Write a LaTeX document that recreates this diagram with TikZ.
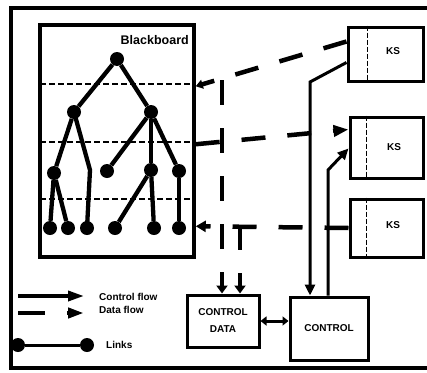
\documentclass[tikz,border=0pt]{standalone}
\usepackage{fontspec}
\setmainfont{Liberation Sans}
\usetikzlibrary{arrows.meta,calc}
\begin{document}
\begin{tikzpicture}[x=1pt,y=-1pt,
  dot/.style={circle,fill,inner sep=0pt,minimum size=14pt},
  link/.style={line width=4.3pt,line join=round},
  box/.style={draw,line width=3pt,inner sep=0pt},
  ctrl/.style={line width=3pt,-{Triangle[length=11pt,width=10pt]}},
  data/.style={line width=4.5pt,dash pattern=on 24pt off 22pt},
  lvl/.style={line width=2pt,dash pattern=on 6pt off 3pt},
  div/.style={line width=1.5pt,dash pattern=on 5pt off 2pt},
  lbl/.style={font=\bfseries\fontsize{10}{17}\selectfont,inner sep=0pt}]
\useasboundingbox (0,0) rectangle (427,372);
% outer frame
\draw[line width=3.5pt] (427,8) -- (11,8) -- (11,368) -- (427,368);
% blackboard
\node[box,line width=3.5pt,minimum width=154pt,minimum height=232pt] (bb) at (117,141) {};
\node[font=\bfseries\fontsize{12.5}{14}\selectfont,anchor=east,inner sep=0pt] (bbt) at (189,40) {Blackboard};
\draw[lvl] (40,84) -- (194,84);
\draw[lvl] (40,142) -- (194,142);
\draw[lvl] (40,199) -- (194,199);
% tree
\node[dot] (r) at (117,59) {};
\node[dot] (a) at (74,112) {};
\node[dot] (b) at (151,112) {};
\node[dot] (c) at (54,173) {};
\node[dot] (d) at (107,171) {};
\node[dot] (e) at (151,170) {};
\node[dot] (f) at (179,171) {};
\node[dot] (l1) at (50,228) {};
\node[dot] (l2) at (68,228) {};
\node[dot] (l3) at (87,228) {};
\node[dot] (l4) at (115,228) {};
\node[dot] (l5) at (154,228) {};
\node[dot] (l6) at (179,228) {};
\coordinate (k) at (90,170);
\draw[link] (r) -- (a);
\draw[link] (r) -- (b);
\draw[link] (a) -- (c);
\draw[link] (a.center) -- (k) -- (l3.center);
\draw[link] (b) -- (d);
\draw[link] (b) -- (e);
\draw[link] (b) -- (f);
\draw[link] (c) -- (l1);
\draw[link] (c) -- (l2);
\draw[link] (e) -- (l4);
\draw[link] (e) -- (l5);
\draw[link] (f) -- (l6);
% KS boxes
\node[box,minimum width=75pt,minimum height=54pt] (ks1) at (385.5,54) {};
\node[box,minimum width=73pt,minimum height=61pt] (ks2) at (386.5,147.5) {};
\node[box,minimum width=73pt,minimum height=58pt] (ks3) at (386.5,228) {};
\draw[div] ([xshift=21pt]ks1.north west) -- ([xshift=21pt]ks1.south west);
\draw[div] ([xshift=18pt]ks2.north west) -- ([xshift=18pt]ks2.south west);
\draw[div] ([xshift=18pt]ks3.north west) -- ([xshift=18pt]ks3.south west);
\node[lbl] (ks1t) at (393,51) {KS};
\node[lbl] (ks2t) at (394,147) {KS};
\node[lbl] (ks3t) at (393,225) {KS};
% control boxes
\node[box,minimum width=72pt,minimum height=52pt,lbl,align=center] (cd) at (223,321) {CONTROL\\DATA};
\node[box,minimum width=78pt,minimum height=63pt,lbl] (ctl) at (329,328.5) {CONTROL};
% data flow connectors
\draw[data,-{Triangle[length=7pt,width=9pt]}] ([yshift=-16pt]ks1.north west) -- ([yshift=-63pt]bb.north east);
\draw[data,-{Triangle[length=15pt,width=11pt]}] ([yshift=-121pt]bb.north east) -- ([yshift=-14pt]ks2.north west);
\draw[data,-{Triangle[length=10pt,width=11pt]}] (ks3.west) -- ([yshift=-203pt]bb.north east);
\coordinate (v1) at (222,80);
\coordinate (v2) at (240,225);
\draw[line width=4pt,dash pattern=on 25pt off 23pt,-{Triangle[length=8pt,width=11pt]}] (v1) -- (v1 |- cd.north);
\draw[line width=4pt,dash pattern=on 25pt off 23pt,-{Triangle[length=8pt,width=11pt]}] (v2) -- (v2 |- cd.north);
% control flow connectors
\coordinate (b1) at (310,82);
\draw[ctrl] ([yshift=-37pt]ks1.north west) -- (b1) -- (b1 |- ctl.north);
\coordinate (b2) at (328,170);
\draw[ctrl] (b2 |- ctl.north) -- (b2) -- ([yshift=-33pt]ks2.north west);
\draw[line width=3pt,{Triangle[length=6pt,width=9pt]}-{Triangle[length=6pt,width=9pt]}] (cd.east) -- (ctl.west |- cd.east);
% legend
\coordinate (cf1) at (18,296);
\coordinate (cf2) at (84,296);
\draw[line width=3.5pt,-{Triangle[length=16pt,width=10pt]}] (cf1) -- (cf2);
\coordinate (df1) at (18,313);
\coordinate (df2) at (84,313);
\draw[line width=4pt,dash pattern=on 27pt off 22pt,-{Triangle[length=16pt,width=10pt]}] (df1) -- (df2);
\node[dot] (ld1) at (18,345) {};
\node[dot] (ld2) at (87,345) {};
\draw[line width=3pt] (ld1) -- (ld2);
\node[lbl,anchor=west] (cft) at (99,297) {Control flow};
\node[lbl,anchor=west] (dft) at (99,310) {Data flow};
\node[lbl,anchor=west] (lkt) at (106,345) {Links};
\end{tikzpicture}
\end{document}
